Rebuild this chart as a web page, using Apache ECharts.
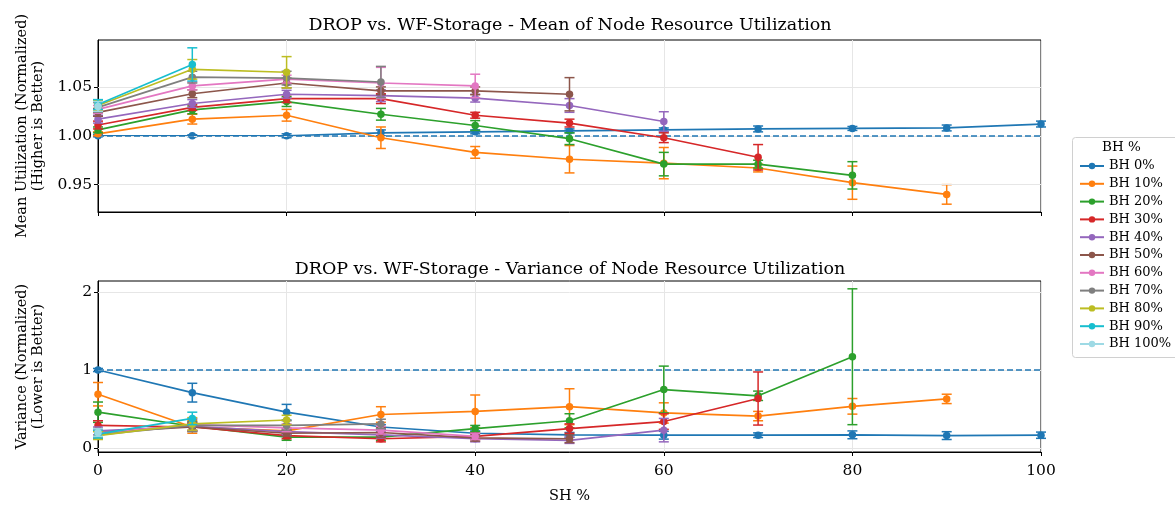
<!DOCTYPE html>
<html><head><meta charset="utf-8">
<script src="https://cdn.jsdelivr.net/npm/echarts@6/dist/echarts.min.js"></script>
<style>html,body{margin:0;padding:0;background:#fff}#c{width:1175px;height:505px}</style>
</head><body><div id="c"></div>
<script>
const shPct = [0,10,20,30,40,50,60,70,80,90,100];
const names = ['BH 0%','BH 10%','BH 20%','BH 30%','BH 40%','BH 50%','BH 60%','BH 70%','BH 80%','BH 90%','BH 100%'];
const colors = ['#1f77b4','#ff7f0e','#2ca02c','#d62728','#9467bd','#8c564b','#e377c2','#7f7f7f','#bcbd22','#17becf','#9edae5'];

// Mean utilization (normalized)
const meanBH0   = [1.000,1.000,1.000,1.003,1.004,1.005,1.006,1.007,1.0075,1.008,1.012];
const meanBH10  = [1.002,1.017,1.021,0.998,0.983,0.976,0.972,0.967,0.952,0.940];
const meanBH20  = [1.006,1.0265,1.035,1.022,1.0105,0.997,0.971,0.971,0.9595];
const meanBH30  = [1.011,1.029,1.038,1.038,1.021,1.013,0.998,0.978];
const meanBH40  = [1.017,1.033,1.0425,1.041,1.0385,1.031,1.0146];
const meanBH50  = [1.024,1.043,1.054,1.046,1.046,1.0425];
const meanBH60  = [1.027,1.051,1.058,1.054,1.051];
const meanBH70  = [1.029,1.060,1.059,1.055];
const meanBH80  = [1.031,1.068,1.065];
const meanBH90  = [1.032,1.073];
const meanBH100 = [1.030];
// Mean error (std)
const meanErrBH0   = [0.001,0.001,0.002,0.003,0.002,0.002,0.002,0.003,0.002,0.003,0.003];
const meanErrBH10  = [0.002,0.005,0.006,0.011,0.006,0.014,0.016,0.004,0.017,0.010];
const meanErrBH20  = [0.003,0.004,0.005,0.006,0.005,0.006,0.012,0.004,0.014];
const meanErrBH30  = [0.004,0.003,0.004,0.005,0.003,0.004,0.005,0.013];
const meanErrBH40  = [0.004,0.004,0.004,0.006,0.004,0.007,0.010];
const meanErrBH50  = [0.004,0.004,0.005,0.004,0.004,0.017];
const meanErrBH60  = [0.004,0.004,0.004,0.016,0.012];
const meanErrBH70  = [0.005,0.006,0.007,0.016];
const meanErrBH80  = [0.005,0.010,0.016];
const meanErrBH90  = [0.005,0.017];
const meanErrBH100 = [0.005];

// Variance (normalized)
const varBH0   = [1.0,0.71,0.46,0.27,0.19,0.17,0.165,0.165,0.17,0.16,0.165];
const varBH10  = [0.69,0.27,0.22,0.43,0.47,0.53,0.45,0.41,0.535,0.63];
const varBH20  = [0.46,0.28,0.14,0.14,0.25,0.35,0.75,0.67,1.17];
const varBH30  = [0.29,0.27,0.16,0.12,0.15,0.25,0.34,0.635];
const varBH40  = [0.22,0.28,0.21,0.17,0.12,0.10,0.23];
const varBH50  = [0.20,0.27,0.19,0.20,0.13,0.12];
const varBH60  = [0.19,0.30,0.26,0.23,0.15];
const varBH70  = [0.17,0.29,0.29,0.31];
const varBH80  = [0.16,0.31,0.36];
const varBH90  = [0.18,0.38];
const varBH100 = [0.20];
// Variance error (std)
const varErrBH0   = [0.02,0.12,0.10,0.03,0.03,0.03,0.05,0.03,0.05,0.05,0.04];
const varErrBH10  = [0.15,0.08,0.04,0.10,0.21,0.23,0.13,0.06,0.10,0.06];
const varErrBH20  = [0.13,0.06,0.04,0.04,0.04,0.09,0.30,0.06,0.87];
const varErrBH30  = [0.06,0.05,0.04,0.04,0.04,0.06,0.10,0.34];
const varErrBH40  = [0.05,0.05,0.04,0.04,0.04,0.04,0.15];
const varErrBH50  = [0.05,0.05,0.04,0.06,0.04,0.05];
const varErrBH60  = [0.05,0.08,0.05,0.05,0.04];
const varErrBH70  = [0.05,0.08,0.06,0.06];
const varErrBH80  = [0.05,0.08,0.06];
const varErrBH90  = [0.05,0.08];
const varErrBH100 = [0.05];

const meanTicks = [0.95,1.00,1.05];
const varTicks = [0,1,2];

const meanAll = [meanBH0,meanBH10,meanBH20,meanBH30,meanBH40,meanBH50,meanBH60,meanBH70,meanBH80,meanBH90,meanBH100];
const meanErrAll = [meanErrBH0,meanErrBH10,meanErrBH20,meanErrBH30,meanErrBH40,meanErrBH50,meanErrBH60,meanErrBH70,meanErrBH80,meanErrBH90,meanErrBH100];
const varAll = [varBH0,varBH10,varBH20,varBH30,varBH40,varBH50,varBH60,varBH70,varBH80,varBH90,varBH100];
const varErrAll = [varErrBH0,varErrBH10,varErrBH20,varErrBH30,varErrBH40,varErrBH50,varErrBH60,varErrBH70,varErrBH80,varErrBH90,varErrBH100];

const FONT = 'DejaVu Serif';
const chart = echarts.init(document.getElementById('c'), null, {renderer:'canvas'});

function errRender(params, api) {
  const x = api.value(0), lo = api.value(1), hi = api.value(2);
  const p1 = api.coord([x, hi]), p2 = api.coord([x, lo]);
  const c = api.visual('color');
  const w = 5;
  const st = {stroke: c, lineWidth: 1.5};
  return {type:'group', children:[
    {type:'line', shape:{x1:p1[0],y1:p1[1],x2:p2[0],y2:p2[1]}, style:st},
    {type:'line', shape:{x1:p1[0]-w,y1:p1[1],x2:p1[0]+w,y2:p1[1]}, style:st},
    {type:'line', shape:{x1:p2[0]-w,y1:p2[1],x2:p2[0]+w,y2:p2[1]}, style:st}
  ]};
}

const series = [];
series.push({type:'line', name:'_g0', xAxisIndex:0, yAxisIndex:0, data:[], z:0, silent:true,
  markLine:{silent:true, symbol:['none','none'], label:{show:false}, animation:false,
    lineStyle:{color:'#e6e6e6', type:'solid', width:1}, data: meanTicks.map(v=>({yAxis:v}))}});
series.push({type:'line', name:'_g1', xAxisIndex:1, yAxisIndex:1, data:[], z:0, silent:true,
  markLine:{silent:true, symbol:['none','none'], label:{show:false}, animation:false,
    lineStyle:{color:'#e6e6e6', type:'solid', width:1}, data: varTicks.map(v=>({yAxis:v}))}});

for (let i = 0; i < names.length; i++) {
  const m = meanAll[i], me = meanErrAll[i], v = varAll[i], ve = varErrAll[i];
  series.push({type:'custom', name:'_em'+i, xAxisIndex:0, yAxisIndex:0, renderItem: errRender,
    itemStyle:{color:colors[i]}, z: 2+i*2, silent:true,
    encode:{x:0, y:[1,2]},
    data: m.map((y,k)=>[shPct[k], y-me[k], y+me[k]])});
  series.push({type:'custom', name:'_ev'+i, xAxisIndex:1, yAxisIndex:1, renderItem: errRender,
    itemStyle:{color:colors[i]}, z: 2+i*2, silent:true,
    encode:{x:0, y:[1,2]},
    data: v.map((y,k)=>[shPct[k], y-ve[k], y+ve[k]])});
}
for (let i = 0; i < names.length; i++) {
  const m = meanAll[i], v = varAll[i];
  const mk = (gi, arr) => ({type:'line', name:names[i], xAxisIndex:gi, yAxisIndex:gi, z:3+i*2,
    symbol:'circle', symbolSize:7.5, showSymbol:true, color:colors[i],
    lineStyle:{width:1.7, color:colors[i]}, itemStyle:{color:colors[i]},
    data: arr.map((y,k)=>[shPct[k], y])});
  const s1 = mk(0, m), s2 = mk(1, v);
  if (i === 0) {
    const ml = {silent:true, symbol:['none','none'], label:{show:false}, animation:false,
      lineStyle:{color:'#1f77b4', type:[6,3], width:1.5}, data:[{yAxis:1}]};
    s1.markLine = ml;
    s2.markLine = JSON.parse(JSON.stringify(ml));
  }
  series.push(s1, s2);
}

const axisCommon = {
  axisLine:{show:true, onZero:false, lineStyle:{color:'#000', width:1}},
  axisTick:{show:true, inside:false, length:4, lineStyle:{color:'#000'}},
};

const option = {
  animation:false,
  backgroundColor:'#fff',
  title:[
    {text:'DROP vs. WF-Storage - Mean of Node Resource Utilization', left:565, top:11, textAlign:'center',
      textStyle:{fontFamily:FONT, fontSize:17.5, fontWeight:'normal', color:'#000'}},
    {text:'DROP vs. WF-Storage - Variance of Node Resource Utilization', left:565, top:255, textAlign:'center',
      textStyle:{fontFamily:FONT, fontSize:17.5, fontWeight:'normal', color:'#000'}}
  ],
  grid:[
    {left:98, right:134, top:40, height:172, show:true, borderColor:'#000', borderWidth:1, backgroundColor:'transparent'},
    {left:98, right:134, top:281, height:172, show:true, borderColor:'#000', borderWidth:1, backgroundColor:'transparent'}
  ],
  xAxis:[
    Object.assign({type:'value', gridIndex:0, min:0, max:100, interval:20,
      axisLabel:{show:false}, splitLine:{show:true, lineStyle:{color:'#e6e6e6'}}}, axisCommon),
    Object.assign({type:'value', gridIndex:1, min:0, max:100, interval:20,
      axisLabel:{show:true, color:'#000', fontFamily:FONT, fontSize:15.5, margin:11},
      splitLine:{show:true, lineStyle:{color:'#e6e6e6'}},
      name:'SH %', nameLocation:'middle', nameGap:37,
      nameTextStyle:{fontFamily:FONT, fontSize:14.5, color:'#000'}}, axisCommon)
  ],
  yAxis:[
    {type:'value', gridIndex:0, min:0.922, max:1.098,
      axisLine:{show:true, onZero:false, lineStyle:{color:'#000'}},
      axisTick:{show:true, length:4, lineStyle:{color:'#000'}, customValues:meanTicks},
      axisLabel:{show:true, color:'#000', fontFamily:FONT, fontSize:15.5, margin:6, customValues:meanTicks,
        formatter:(v)=>v.toFixed(2)},
      splitLine:{show:false},
      name:'Mean Utilization (Normalized)\n(Higher is Better)', nameLocation:'middle', nameGap:52, nameRotate:90,
      nameTextStyle:{fontFamily:FONT, fontSize:14.5, color:'#000', lineHeight:16}},
    {type:'value', gridIndex:1, min:-0.05, max:2.14,
      axisLine:{show:true, onZero:false, lineStyle:{color:'#000'}},
      axisTick:{show:true, length:4, lineStyle:{color:'#000'}, customValues:varTicks},
      axisLabel:{show:true, color:'#000', fontFamily:FONT, fontSize:15.5, margin:6, customValues:varTicks,
        formatter:(v)=>String(Math.round(v))},
      splitLine:{show:false},
      name:'Variance (Normalized)\n(Lower is Better)', nameLocation:'middle', nameGap:52, nameRotate:90,
      nameTextStyle:{fontFamily:FONT, fontSize:14.5, color:'#000', lineHeight:16}}
  ],
  legend:{
    data: names, orient:'vertical', left:1074, top:154, itemWidth:24, itemHeight:8, itemGap:3.8,
    textStyle:{fontFamily:FONT, fontSize:13, color:'#000', lineHeight:14},
    selectedMode:false
  },
  graphic:[
    {type:'rect', left:1072, top:137, shape:{width:110, height:220, r:3},
      style:{fill:'#fff', stroke:'#d0d0d0', lineWidth:1}, z:-1, silent:true},
    {type:'text', left:1102, top:140, style:{text:'BH %', font:'13.5px "DejaVu Serif"', fill:'#000'}, z:10}
  ],
  series: series
};
chart.setOption(option);
</script></body></html>
